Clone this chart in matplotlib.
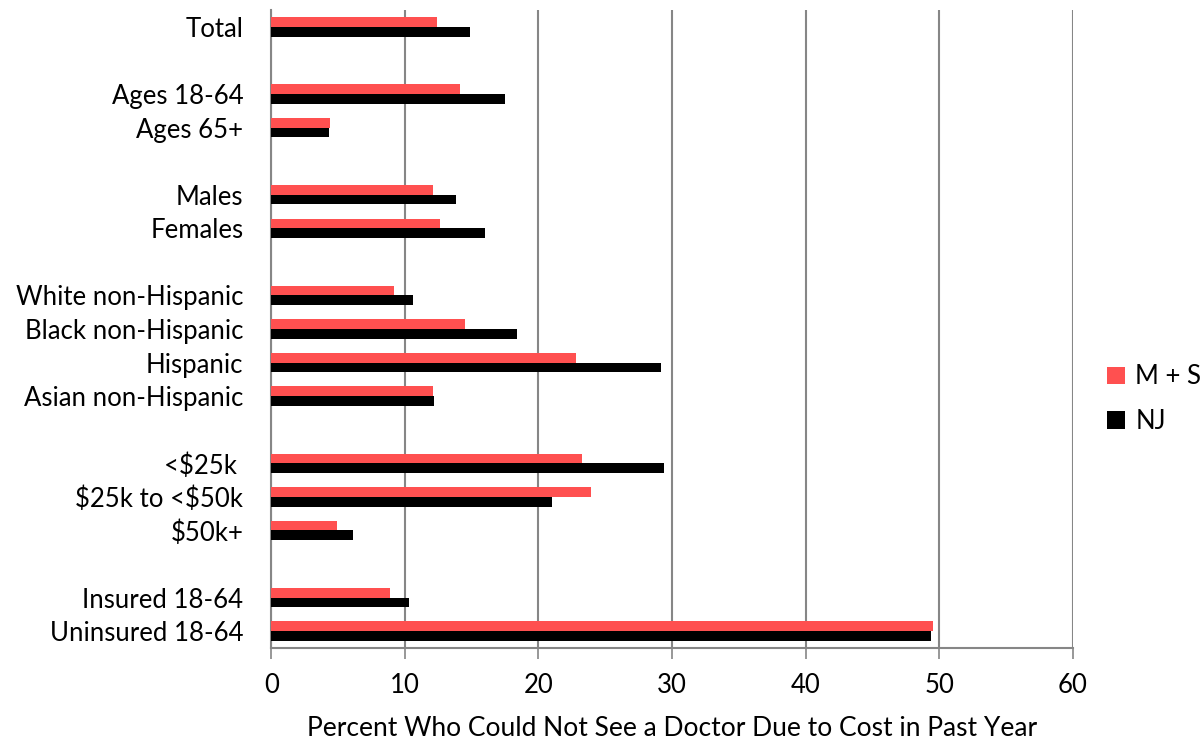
import matplotlib
matplotlib.use("Agg")
import matplotlib.pyplot as plt
import numpy as np

plt.rcParams['font.family'] = ['Lato', 'DejaVu Sans']
plt.rcParams['text.parse_math'] = False

categories = ["Total", "", "Ages 18-64", "Ages 65+", "", "Males", "Females", "",
              "White non-Hispanic", "Black non-Hispanic", "Hispanic", "Asian non-Hispanic", "",
              "<$25k ", "$25k to <$50k", "$50k+", "", "Insured 18-64", "Uninsured 18-64"]
ms_values = [12.4, None, 14.1, 4.4, None, 12.1, 12.6, None,
             9.2, 14.5, 22.8, 12.1, None,
             23.3, 23.9, 4.9, None, 8.9, 49.5]
nj_values = [14.9, None, 17.5, 4.3, None, 13.8, 16.0, None,
             10.6, 18.4, 29.2, 12.2, None,
             29.4, 21.0, 6.1, None, 10.3, 49.4]
series_names = ["M + S", "NJ"]
xticks = [0, 10, 20, 30, 40, 50, 60]
xlabel = "Percent Who Could Not See a Doctor Due to Cost in Past Year"

fs = 18.5
fig = plt.figure(figsize=(12, 7.43), dpi=100)
ax = fig.add_axes([0.226, 0.128, 0.668, 0.8585])

y = np.arange(len(categories))
h = 0.29
ms = np.array([np.nan if v is None else v for v in ms_values])
nj = np.array([np.nan if v is None else v for v in nj_values])
ax.barh(y - h / 2, ms, height=h, color="#FF5050", label=series_names[0], zorder=3)
ax.barh(y + h / 2, nj, height=h, color="#000000", label=series_names[1], zorder=3)

ax.set_ylim(len(categories) - 0.5, -0.5)
ax.set_xlim(0, 60)
ax.set_xticks(xticks)
ax.set_yticks(y)
ax.set_yticklabels(categories, fontsize=fs)
ax.tick_params(axis='y', length=0, pad=20)
ax.tick_params(axis='x', length=8, width=1.2, color="#868686", labelsize=fs, pad=10)
ax.xaxis.grid(True, color="#868686", linewidth=1.5, zorder=0)
ax.set_axisbelow(True)
for s in ["top", "right"]:
    ax.spines[s].set_visible(False)
for s in ["left", "bottom"]:
    ax.spines[s].set_color("#868686")
    ax.spines[s].set_linewidth(1.5)
ax.set_xlabel(xlabel, fontsize=19, labelpad=13)

leg = ax.legend(loc="center left", bbox_to_anchor=(1.03, 0.39), frameon=False,
                fontsize=fs, handlelength=0.7, handleheight=0.7, labelspacing=0.75,
                handletextpad=0.4, borderaxespad=0)

fig.savefig("out.png", dpi=100)
